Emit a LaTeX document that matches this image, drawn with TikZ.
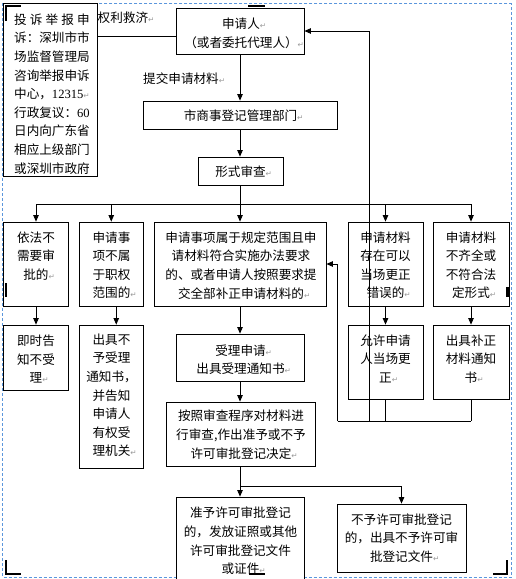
\documentclass[tikz,border=0pt]{standalone}
\usepackage{fontspec}
\setmainfont{Noto Sans CJK SC}
\newfontfamily\serifnum{Liberation Serif}
\newfontfamily\dejavu{DejaVu Sans}
\usetikzlibrary{arrows.meta,calc}
\newcommand{\rt}{\rlap{\dejavu\fontsize{7.5}{7.5}\selectfont\textcolor{black!40}{↵}}}
\newcommand{\nm}[1]{{\serifnum #1}}
\definecolor{pageblue}{RGB}{91,150,220}
\tikzset{
  box/.style={draw, line width=0.8pt, inner sep=0pt, fill=white},
  txt/.style={inner sep=0pt, align=center, font={\fontsize{12.6}{18.6}\selectfont}},
  ln/.style={line width=0.8pt},
  arr/.style={line width=0.8pt, -{Triangle[length=6.5pt,width=5.5pt]}},
  pageborder/.style={draw=pageblue, line width=0.7pt, dash pattern=on 3pt off 2pt},
}
\begin{document}
\begin{tikzpicture}[x=1pt,y=-1pt]
\useasboundingbox (0,0) rectangle (516,579);
\clip (0,0) rectangle (516,579);
\fill[white] (0,0) rectangle (516,579);
\draw[pageborder] (2.7,3.3) rectangle (511,577.3);

% boxes
\node[box, minimum width=93.5pt, minimum height=172.5pt] (L) at (50.25,89.75) {};
\node[box, minimum width=128pt, minimum height=46pt] (P) at (240,31) {};
\node[box, minimum width=194pt, minimum height=28pt] (M) at (240,115) {};
\node[box, minimum width=85pt, minimum height=28pt] (F) at (240.5,171) {};
\node[box, minimum width=65pt, minimum height=84pt] (A) at (36,264) {};
\node[box, minimum width=64.5pt, minimum height=84pt] (B) at (111.25,264) {};
\node[box, minimum width=171.5pt, minimum height=84pt] (C) at (240.25,264) {};
\node[box, minimum width=75pt, minimum height=84pt] (D) at (385.5,264) {};
\node[box, minimum width=76pt, minimum height=84pt] (E) at (471,264) {};
\node[box, minimum width=65pt, minimum height=65pt] (A2) at (36,357.5) {};
\node[box, minimum width=64.5pt, minimum height=143pt] (B2) at (111.25,396.5) {};
\node[box, minimum width=75pt, minimum height=74pt] (D2) at (385.5,362) {};
\node[box, minimum width=76pt, minimum height=74pt] (E2) at (471,362) {};
\node[box, minimum width=128pt, minimum height=47pt] (R) at (240,357.5) {};
\node[box, minimum width=149pt, minimum height=64pt] (S) at (240.5,434) {};
\node[box, minimum width=128pt, minimum height=93pt] (G) at (240,543.5) {};
\node[box, minimum width=129pt, minimum height=68pt] (N) at (401.5,538) {};

% texts
\node[txt, align=left, anchor=north west] (Lt) at (14,13.4) {%
\makebox[75.6pt]{投\hfill 诉\hfill 举\hfill 报\hfill 申}\\
诉：深圳市市\\场监督管理局\\咨询举报申诉\\中心，\nm{12315}\rt\\
行政复议：\nm{60}\\日内向广东省\\相应上级部门\\或深圳市政府};
\node[txt, anchor=west] (rl) at (97.5,18) {权利救济\rt};
\node[txt, anchor=west] (tj) at (143,79) {提交申请材料\rt};
\node[txt, anchor=north] (Pt) at (241,17.7) {申请人\rt\\（或者委托代理人）\rt};
\node[txt] (Mt) at (240.5,115.5) {市商事登记管理部门\rt};
\node[txt] (Ft) at (240.5,171.5) {形式审查\rt};
\node[txt, anchor=north] (At) at (36,231.4) {依法不\\需要审\\批的\rt};
\node[txt, anchor=north] (Bt) at (111.5,231.4) {申请事\\项不属\\于职权\\范围的\rt};
\node[txt, anchor=north] (Ct) at (241,231.4) {申请事项属于规定范围且申\\请材料符合实施办法要求\\的、或者申请人按照要求提\\交全部补正申请材料的\rt};
\node[txt, anchor=north] (Dt) at (385.5,231.4) {申请材料\\存在可以\\当场更正\\错误的\rt};
\node[txt, anchor=north] (Et) at (471,231.4) {申请材料\\不齐全或\\不符合法\\定形式\rt};
\node[txt, anchor=north] (A2t) at (36,335) {即时告\\知不受\\理\rt};
\node[txt, anchor=north] (B2t) at (111.5,333.5) {出具不\\予受理\\通知书，\\并告知\\申请人\\有权受\\理机关\rt};
\node[txt, anchor=north] (D2t) at (385.5,334.5) {允许申请\\人当场更\\正\rt};
\node[txt, anchor=north] (E2t) at (471,334.5) {出具补正\\材料通知\\书\rt};
\node[txt, anchor=north] (Rt) at (240.5,344.4) {受理申请\rt\\出具受理通知书\rt};
\node[txt, anchor=north] (St) at (241,410) {按照审查程序对材料进\\行审查,作出准予或不予\\许可审批登记决定\rt};
\node[txt, anchor=north] (Gt) at (240.5,507) {准予许可审批登记\\的，发放证照或其他\\许可审批登记文件\\或证件\rt};
\node[txt, anchor=north] (Nt) at (401.5,513.4) {不予许可审批登记\\的，出具不予许可审\\批登记文件\rt};

% connectors
\coordinate (pl) at ([yshift=-5pt]P.west);
\draw[ln] (pl) -- (pl -| L.east);
\draw[arr] (P.south) -- (M.north);
\draw[arr] (M.south) -- (F.north -| M.south);
\coordinate (J) at (240,204);
\draw[ln] (F.south -| J) -- (J);
\draw[ln] (A.north |- J) -- (E.north |- J);
\draw[arr] (A.north |- J) -- (A.north);
\draw[arr] (B.north |- J) -- (B.north);
\draw[arr] (J) -- (J |- C.north);
\draw[arr] (D.north |- J) -- (D.north);
\draw[arr] (E.north |- J) -- (E.north);
\draw[arr] (A.south) -- (A2.north);
\draw[arr] ([xshift=5pt]B.south) -- ([xshift=5pt]B2.north);
\draw[arr] (D.south) -- (D2.north);
\draw[arr] (E.south) -- (E2.north);
\draw[arr] (C.south -| J) -- (R.north -| J);
\draw[arr] (R.south -| J) -- (S.north -| J);
\draw[arr] (S.south -| J) -- (G.north -| J);
\coordinate (br) at (240,486);
\draw[arr] (br) -| (N.north);

% feedback
\coordinate (fb1) at (337.5,421);
\coordinate (fb2) at (369.5,421);
\draw[ln] (D2.south) -- (D2.south |- fb1);
\draw[ln] (E2.south) -- (E2.south |- fb1);
\draw[ln] (fb1) -- (E2.south |- fb1);
\draw[arr] (fb1) |- (C.east);
\draw[arr] (fb2) |- (P.east);

% page marks
\fill (5,5) rectangle (7.3,20.5);
\fill (5,5) rectangle (20.5,7.3);
\fill (248.3,5) rectangle (265,7.3);
\fill (5,282.7) rectangle (7.3,297.3);
\fill (506,286.7) rectangle (508.7,297.3);
\fill (506,560) rectangle (508.3,575);
\fill (493,572.7) rectangle (508.3,575);
\fill (5,560) rectangle (7.3,575);
\fill (5,572.7) rectangle (20.7,575);
\fill (249,572.7) rectangle (265,575);
\end{tikzpicture}
\end{document}
